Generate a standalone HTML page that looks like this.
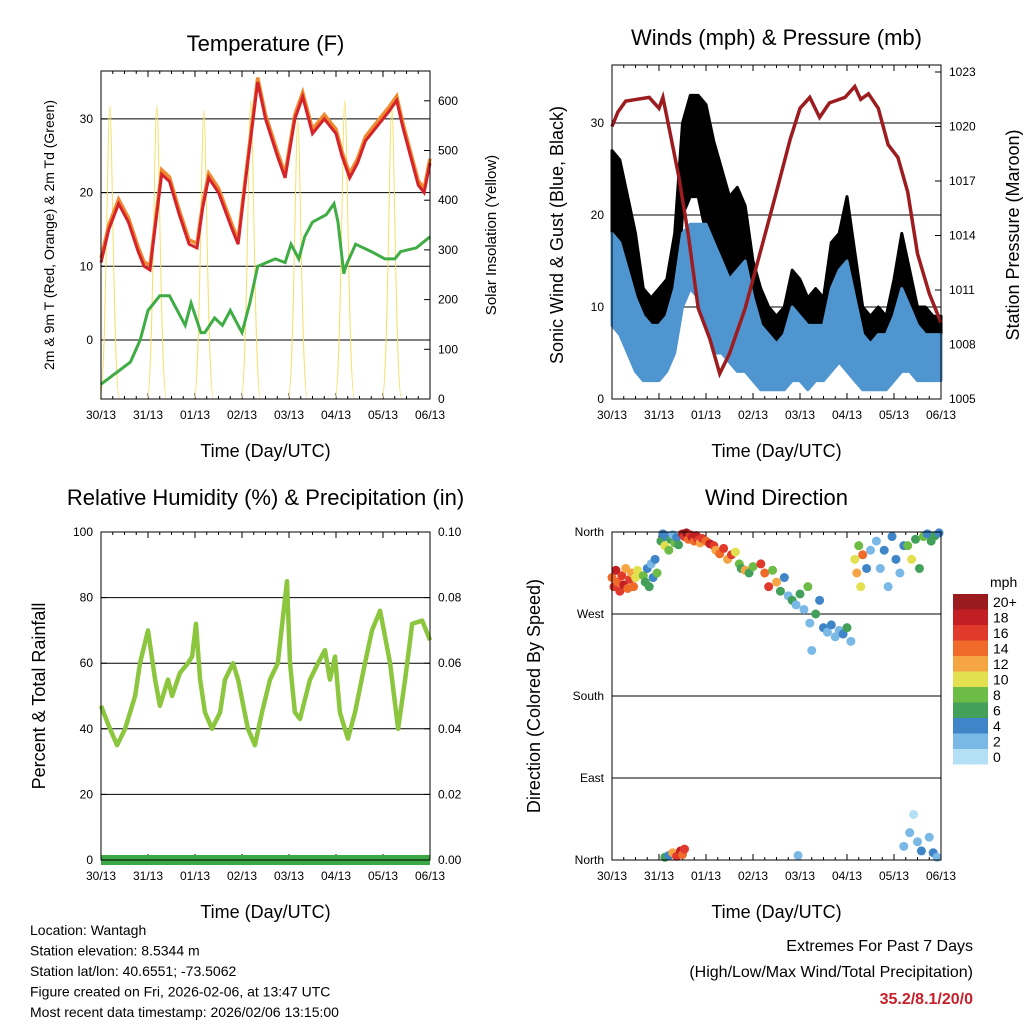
<!DOCTYPE html>
<html><head><meta charset="utf-8"><style>
html,body{margin:0;padding:0;background:#fff;}
svg{display:block;font-family:"Liberation Sans",sans-serif;}
</style></head><body>
<svg id="c" width="1024" height="1024" viewBox="0 0 1024 1024"></svg>
<script>
// ---------- DATA ----------
const dayLabels=["30/13","31/13","01/13","02/13","03/13","04/13","05/13","06/13"];
const tempHours=[0,4,9,14,19,22,25,28,31,35,40,45,49,52,55,60,67,70,74,80,84,90,94,99,103,108,114,120,123,127,131,135,141,147,151,154,158,162,165,168];
const tempVals=[10.5,15,18.5,16,12,10,9.5,16,22.5,21.5,17,13,12.5,18,22,20,15,13,22,35,30,25,22,30,33,28,30,28,25,22,24,27,29,31,32.5,29,25,21,20,24];
const dewHours=[0,10,15,20,24,30,35,40,43,46,51,53,58,62,66,70,72,76,80,89,94,97,101,104,108,115,119,121,124,125,130,138,145,150,153,161,168];
const dewVals=[-6,-4,-3,0,4,6,6,3.5,2,5,1,1,3,2,4,2,1,5,10,11,10.5,13,11,14,16,17,18.5,16,9,10,13,12,11,11,12,12.5,14];
const solarPeaks=[590,590,580,600,560,600,590];
const presHours=[0,3,7,19,24,26,29,34,39,44,50,55,60,68,75,83,91,96,101,106,111,119,124,127,131,136,141,146,151,156,162,168];
const presVals=[1020,1020.8,1021.4,1021.6,1021,1021.6,1020,1017.3,1014,1010,1008.3,1006.4,1007.5,1010,1012.8,1016,1019.3,1021,1021.6,1020.5,1021.3,1021.6,1022.2,1021.5,1021.8,1021,1019,1018.3,1016.4,1013,1010.8,1009.2];
const gustHi=[27,26,22,18,12,11,12,13,18,30,33,33,32,28,25,22,23,21,15,12,10,9,10,14,13,11,12,11,17,18,22,16,10,9,10,9,13,18,14,10,10,9,9];
const gustLo=[15,14,10,7,5,5,5,6,8,20,22,22,18,13,12,10,8,6,5,3,2,3,4,5,4,3,4,5,8,10,8,5,3,2,3,3,5,7,6,5,5,4,4];
const windHi=[18,17,14,11,9,8,8,9,12,18,19,19,19,17,15,13,14,15,11,8,7,6,7,10,9,8,8,8,12,14,15,11,7,6,7,7,9,12,10,8,7,7,7];
const windLo=[8,7,5,3,2,2,2,3,5,10,12,11,8,5,5,4,3,3,2,1,1,1,1,2,2,1,2,2,3,4,3,2,1,1,1,1,2,3,3,2,2,2,2];
const rhHours=[0,4.6,8.2,12.3,17.4,19.9,24,27.6,30.1,34.2,36.3,40.3,44.4,46.5,48.5,50.6,53.1,56.7,60.8,63.3,67.4,70,75,78.6,82.2,86.3,90.3,95,96.5,99,101.6,106.7,110.8,114.4,116.9,119.5,122,126.1,129.7,134.8,138.4,142.5,147.6,151.7,155.3,158.9,164,168];
const rhVals=[47,40,35,40,50,60,70,55,47,55,50,57,60,62,72,55,45,40,45,55,60,55,40,35,45,55,60,85,60,45,43,55,60,64,55,62,45,37,45,60,70,76,60,40,55,72,73,67];
const precipVals=[0,0];
const dirHours=[0,1,2,3,4,5,6,7,8,9,10,11,12,13,16,17,18,19,20,21,22,23,25,26,27,28,29,30,31,32,33,34,36,37,38,39,40,41,42,43,44,45,46,48,50,52,53,55,57,59,61,63,65,66,68,70,72,76,78,80,82,84,86,88,90,92,94,96,98,100,101,102,104,106,108,110,112,114,116,118,120,122,124,125,126,127,128,130,132,135,137,139,141,143,145,147,149,151,153,155,157,159,161,163,165,167,27,29,31,33,35,36,37,149,152,154,156,158,162,164,166,95];
const dirDegs=[310,300,318,305,295,312,302,320,298,308,315,300,310,318,312,305,320,300,325,310,330,315,350,358,345,355,340,352,357,348,354,346,358,355,359,352,357,354,350,356,351,348,353,350,347,345,340,336,342,330,335,338,325,320,318,315,322,325,315,300,318,305,295,310,290,285,280,292,275,300,260,230,270,285,255,250,258,245,252,248,255,240,330,315,345,300,335,320,340,350,320,340,300,355,330,315,345,345,330,352,320,355,358,350,356,359,3,5,8,4,10,6,12,15,30,50,20,10,25,8,3,5];
const dirSpeeds=[14,16,18,15,17,16,19,13,15,17,12,14,11,10,8,6,4,7,3,5,4,9,7,5,10,4,8,6,3,9,5,7,18,16,20,14,17,19,15,18,16,13,17,14,18,16,12,15,17,13,16,11,8,7,12,6,9,17,14,16,8,12,7,5,3,6,2,7,3,8,2,3,6,4,4,3,5,2,3,4,6,3,10,12,8,11,14,5,3,2,3,4,3,5,4,3,5,9,11,7,6,8,5,7,6,4,7,4,12,16,18,14,16,3,2,1,3,4,2,5,3,2];
const colorLabels=["20+","18","16","14","12","10","8","6","4","2","0"];
const colorBins=["#b3e0f5","#7ab8e6","#3f85c8","#43a05a","#6cbc45","#e2e04f","#f6a545","#f06a2a","#e03a2c","#c21f25","#9b1a1d"];

// ---------- DRAW ----------
const NS="http://www.w3.org/2000/svg";
const svg=document.getElementById('c');
function mk(tag,attrs,parent,text){const e=document.createElementNS(NS,tag);for(const k in attrs)e.setAttribute(k,attrs[k]);if(text!==undefined)e.textContent=text;(parent||svg).appendChild(e);return e;}
function lin(d0,d1,r0,r1){return v=>r0+(v-d0)*(r1-r0)/(d1-d0);}

function panel(name,x0,x1,y0,y1,title,ty){
  const g=mk('g',{});
  
  
  const t=mk('text',{x:(x0+x1)/2,y:ty,'text-anchor':'middle','font-size':22},g,title);
  
  
  const xs=lin(0,168,x0,x1);
  dayLabels.forEach((l,i)=>{
    const x=xs(i*24);
    mk('line',{x1:x,x2:x,y1:y1,y2:y1-6,stroke:'#000'},g);
    mk('line',{x1:x,x2:x,y1:y0,y2:y0+6,stroke:'#000'},g);
    if(i<7)for(let k=1;k<4;k++){const xm=xs(i*24+k*6);mk('line',{x1:xm,x2:xm,y1:y1,y2:y1-3,stroke:'#000'},g);mk('line',{x1:xm,x2:xm,y1:y0,y2:y0+3,stroke:'#000'},g);}
    const tl=mk('text',{x:x,y:y1+20,'text-anchor':'middle','font-size':12},g,l);
    
    
  });
  const xt=mk('text',{x:(x0+x1)/2,y:y1+58,'text-anchor':'middle','font-size':18},g,'Time (Day/UTC)');
  
  
  return {g,xs};
}
function yTicks(g,vals,ys,x0,x1,labels,side,grid){
  vals.forEach((v,i)=>{
    const y=ys(v);
    if(grid&&grid(v))mk('line',{x1:x0,x2:x1,y1:y,y2:y,stroke:'#000','stroke-width':1},g);
    const xe=side==='l'?x0:x1, d=side==='l'?6:-6;
    mk('line',{x1:xe,x2:xe+d,y1:y,y2:y,stroke:'#000'},g);
    const tl=mk('text',{x:side==='l'?x0-8:x1+8,y:y+4,'text-anchor':side==='l'?'end':'start','font-size':12},g,labels[i]);
    
    
  });
}
function axisTitle(g,text,x,y,fs,name){
  const t=mk('text',{x:x,y:y,'text-anchor':'middle','font-size':fs,transform:`rotate(-90 ${x} ${y})`},g,text);
  
  
}
function frame(g,x0,x1,y0,y1){mk('rect',{x:x0,y:y0,width:x1-x0,height:y1-y0,fill:'none',stroke:'#000','stroke-width':1},g);}
function pathFrom(hs,vs,xs,ys){return hs.map((h,i)=>(i?'L':'M')+xs(h).toFixed(1)+','+ys(vs[i]).toFixed(1)).join('');}

// Panel 1 Temperature
(function(){
  const X0=101,X1=430,Y0=71,Y1=399;
  const p=panel('temperature-panel',X0,X1,Y0,Y1,'Temperature (F)',51);
  const ys=lin(0,10,340,266.3), ys2=lin(0,100,399,349.3);
  const g=p.g, xs=p.xs;
  yTicks(g,[0,10,20,30],ys,X0,X1,['0','10','20','30'],'l',v=>true);
  yTicks(g,[0,100,200,300,400,500,600],ys2,X0,X1,['0','100','200','300','400','500','600'],'r');
  solarPeaks.forEach((pk,i)=>{
    const c=i*24+4.5;
    const d=`M${xs(c-5)},${ys2(0)} C${xs(c-2)},${ys2(0)} ${xs(c-1.2)},${ys2(pk)} ${xs(c)},${ys2(pk)} C${xs(c+1.2)},${ys2(pk)} ${xs(c+2)},${ys2(0)} ${xs(c+5)},${ys2(0)}`;
    const e=mk('path',{d:d,fill:'none',stroke:'#f3e06a','stroke-width':1},g);
    
    
  });
  const o=mk('path',{d:pathFrom(tempHours,tempVals.map(v=>v+0.6),xs,ys),fill:'none',stroke:'#f08a30','stroke-width':3.5},g);
  
  
  const r=mk('path',{d:pathFrom(tempHours,tempVals,xs,ys),fill:'none',stroke:'#d4232a','stroke-width':3},g);
  
  
  const dw=mk('path',{d:pathFrom(dewHours,dewVals,xs,ys),fill:'none',stroke:'#3fac45','stroke-width':3},g);
  
  
  frame(g,X0,X1,Y0,Y1);
  axisTitle(g,'2m & 9m T (Red, Orange) & 2m Td (Green)',54,235,14,'y-axis-title');
  axisTitle(g,'Solar Insolation (Yellow)',496,235,15,'y2-axis-title');
})();

// Panel 2 Winds
(function(){
  const X0=612,X1=941,Y0=65,Y1=399;
  const p=panel('winds-panel',X0,X1,Y0,Y1,'Winds (mph) & Pressure (mb)',45);
  const ys=lin(0,10,399,307), ys2=lin(1005,1023,399,72);
  const g=p.g,xs=p.xs;
  yTicks(g,[0,10,20,30],ys,X0,X1,['0','10','20','30'],'l',v=>v>0);
  yTicks(g,[1005,1008,1011,1014,1017,1020,1023],ys2,X0,X1,['1005','1008','1011','1014','1017','1020','1023'],'r');
  const hs=gustHi.map((_,i)=>i*4);
  function band(hi,lo,col,name){
    const d=pathFrom(hs,hi,xs,ys)+hs.slice().reverse().map((h,j)=>'L'+xs(h).toFixed(1)+','+ys(lo[lo.length-1-j]).toFixed(1)).join('')+'Z';
    const e=mk('path',{d:d,fill:col,stroke:col,'stroke-width':3,'stroke-linejoin':'round'},g);
    
    
  }
  band(gustHi,gustLo,'#000','gust-scatter');
  band(windHi,windLo,'#4f95d0','wind-scatter');
  const pr=mk('path',{d:pathFrom(presHours,presVals,xs,ys2),fill:'none',stroke:'#9c1c1f','stroke-width':3.5},g);
  
  
  frame(g,X0,X1,Y0,Y1);
  axisTitle(g,'Sonic Wind & Gust (Blue, Black)',563,235,18,'y-axis-title');
  axisTitle(g,'Station Pressure (Maroon)',1019,235,18,'y2-axis-title');
})();

// Panel 3 RH
(function(){
  const X0=101,X1=430,Y0=532,Y1=860;
  const p=panel('humidity-panel',X0,X1,Y0,Y1,'Relative Humidity (%) & Precipitation (in)',505);
  const ys=lin(0,100,860,532), ys2=lin(0,0.1,860,532);
  const g=p.g,xs=p.xs;
  yTicks(g,[0,20,40,60,80,100],ys,X0,X1,['0','20','40','60','80','100'],'l',v=>v>0&&v<100);
  yTicks(g,[0,0.02,0.04,0.06,0.08,0.1],ys2,X0,X1,['0.00','0.02','0.04','0.06','0.08','0.10'],'r');
  const pc=mk('path',{d:pathFrom([0,168],precipVals,xs,ys2),fill:'none',stroke:'#3aa845','stroke-width':10},g);
  
  
  const rh=mk('path',{d:pathFrom(rhHours,rhVals,xs,ys),fill:'none',stroke:'#8cc63f','stroke-width':4.5,'stroke-linejoin':'round'},g);
  
  
  frame(g,X0,X1,Y0,Y1);
  axisTitle(g,'Percent & Total Rainfall',45,696,18,'y-axis-title');
})();

// Panel 4 Direction
(function(){
  const X0=612,X1=941,Y0=532,Y1=860;
  const p=panel('direction-panel',X0,X1,Y0,Y1,'Wind Direction',505);
  const ys=lin(0,360,860,532);
  const g=p.g,xs=p.xs;
  yTicks(g,[0,90,180,270,360],ys,X0,X1,['North','East','South','West','North'],'l',v=>v>0&&v<360);
  dirHours.forEach((h,i)=>{
    const b=Math.min(10,Math.floor(dirSpeeds[i]/2));
    const c=mk('circle',{cx:xs(h),cy:ys(dirDegs[i]),r:4.5,fill:colorBins[b]},g);
    
    
  });
  frame(g,X0,X1,Y0,Y1);
  axisTitle(g,'Direction (Colored By Speed)',540,696,18,'y-axis-title');
  const cb=mk('g',{});
  
  
  const u=mk('text',{x:990,y:587,'font-size':14,'text-anchor':'start'},cb,'mph');
  
  
  colorLabels.forEach((l,i)=>{
    const y=594+i*15.5;
    mk('rect',{x:953,y:y,width:35,height:15.5,fill:colorBins[10-i]},cb);
    const t=mk('text',{x:993,y:y+13,'font-size':14},cb,l);
    
    
  });
})();

const info=["Location: Wantagh","Station elevation: 8.5344 m","Station lat/lon: 40.6551; -73.5062","Figure created on Fri, 2026-02-06, at 13:47 UTC","Most recent data timestamp: 2026/02/06 13:15:00"];
info.forEach((s,i)=>{const t=mk('text',{x:30,y:935+i*20.5,'font-size':14},svg,s);
  
  });
const e1=mk('text',{x:973,y:951,'font-size':16,'text-anchor':'end'},svg,'Extremes For Past 7 Days');


const e2=mk('text',{x:973,y:977,'font-size':16,'text-anchor':'end'},svg,'(High/Low/Max Wind/Total Precipitation)');


const e3=mk('text',{x:973,y:1004,'font-size':16,'text-anchor':'end','font-weight':'bold',fill:'#c8202a'},svg,'35.2/8.1/20/0');


</script>
</body></html>
